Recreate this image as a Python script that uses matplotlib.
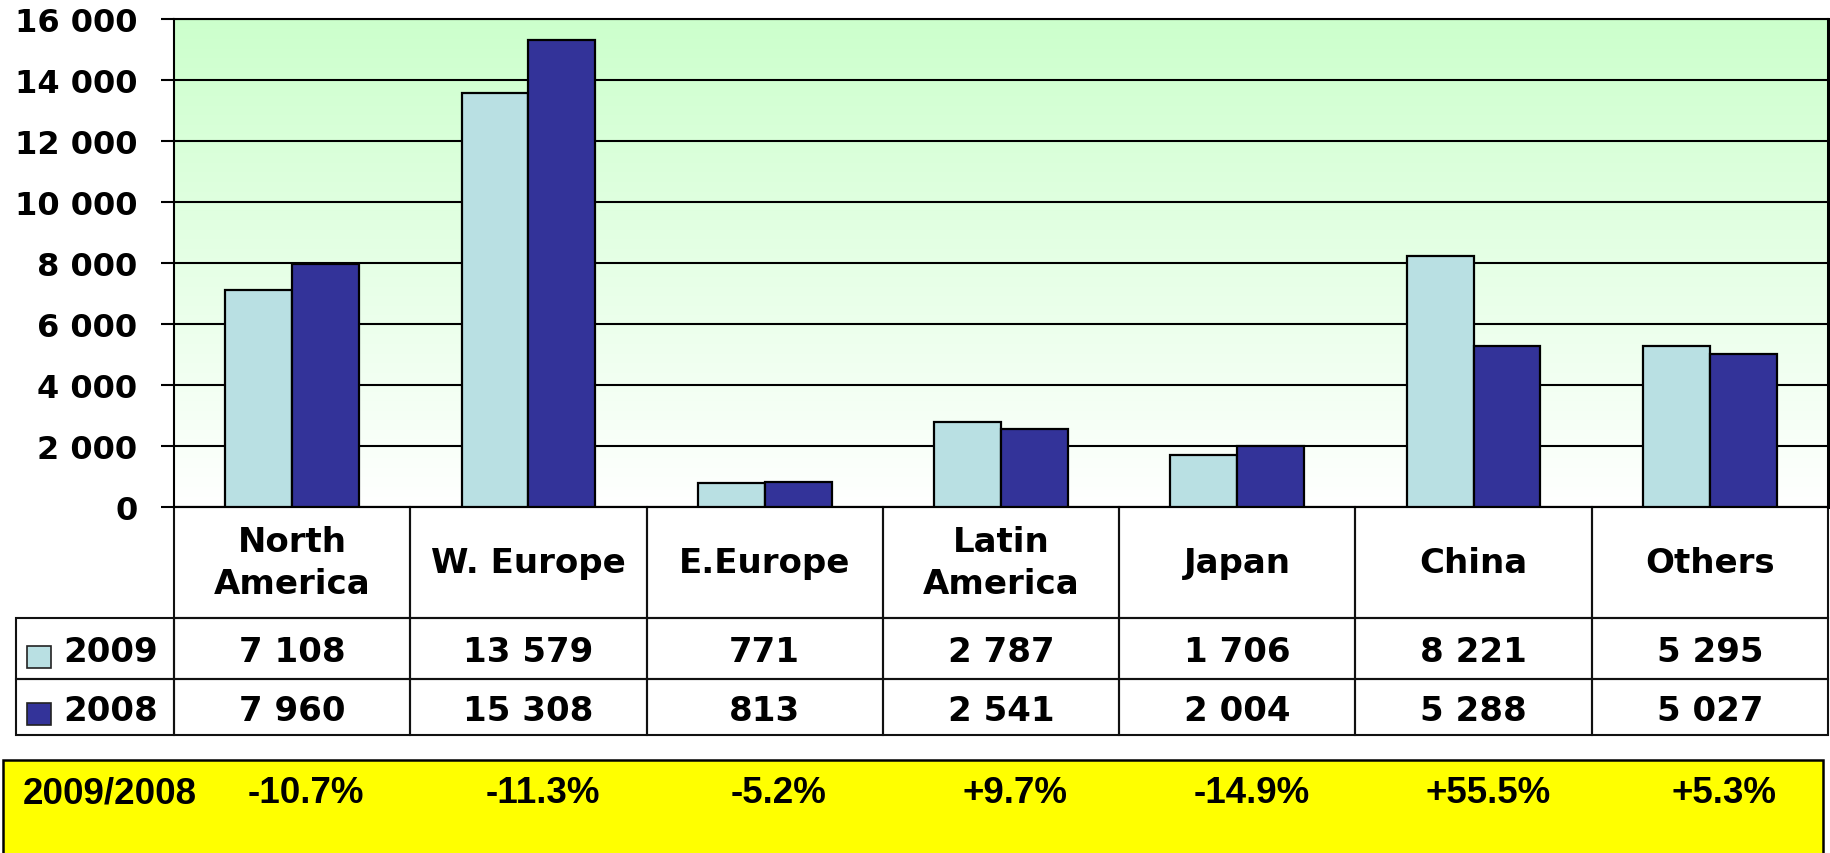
import matplotlib
matplotlib.use("Agg")
import matplotlib.pyplot as plt
import numpy as np
from matplotlib.patches import Rectangle
from matplotlib.table import Table
from matplotlib.colors import LinearSegmentedColormap

plt.rcParams['font.family'] = ['DejaVu Sans']
plt.rcParams['font.weight'] = 'bold'

regions = ["North\nAmerica", "W. Europe", "E.Europe", "Latin\nAmerica", "Japan", "China", "Others"]
sales_2009 = [7108, 13579, 771, 2787, 1706, 8221, 5295]
sales_2008 = [7960, 15308, 813, 2541, 2004, 5288, 5027]
change = ["-10.7%", "-11.3%", "-5.2%", "+9.7%", "-14.9%", "+55.5%", "+5.3%"]
years = ["2009", "2008"]
colors = ["#B9E0E3", "#333399"]

W, H = 1831, 854
fig = plt.figure(figsize=(W / 100, H / 100), dpi=100)

# plot area in pixels (from top-left)
px_l, px_r, px_t, px_b = 174, 1828, 20, 508
ax = fig.add_axes([px_l / W, 1 - px_b / H, (px_r - px_l) / W, (px_b - px_t) / H])

# green -> white gradient background
cmap = LinearSegmentedColormap.from_list("bg", ["#FFFFFF", "#CCFFCC"])
grad = np.linspace(0, 1, 256).reshape(-1, 1)
ax.imshow(grad, cmap=cmap, aspect="auto", origin="lower",
          extent=[-0.5, 6.5, 0, 16000], zorder=0)

x = np.arange(len(regions))
bw = 0.283
ax.bar(x - bw / 2, sales_2009, bw, color=colors[0], edgecolor="black", linewidth=1.6, zorder=3)
ax.bar(x + bw / 2, sales_2008, bw, color=colors[1], edgecolor="black", linewidth=1.6, zorder=3)

ax.set_xlim(-0.5, 6.5)
ax.set_ylim(0, 16000)
ax.set_yticks(np.arange(0, 16001, 2000))
ax.set_yticklabels([f"{v:,}".replace(",", " ") for v in range(0, 16001, 2000)],
                   fontsize=23, fontweight="bold")
ax.tick_params(axis="y", length=9.4, width=1.5, direction="out", pad=17)
ax.set_xticks([])
ax.yaxis.grid(True, color="black", linewidth=1.5, zorder=1)
ax.set_axisbelow(True)
for s in ["left", "top", "bottom"]:
    ax.spines[s].set_linewidth(1.5)
ax.spines["right"].set_linewidth(2.2)

# data table under the plot
ax_w, ax_h = px_r - px_l, px_b - px_t
hdr_h, r1_h, r2_h = 111, 61, 56
tab_left = 16
tbl = Table(ax, bbox=[(tab_left - px_l) / ax_w, -(hdr_h + r1_h + r2_h) / ax_h,
                      (px_r - tab_left) / ax_w, (hdr_h + r1_h + r2_h) / ax_h])
cw = ax_w / 7
lab_w = px_l - tab_left
for j, name in enumerate(regions):
    tbl.add_cell(0, j + 1, width=cw, height=hdr_h, text=name, loc="center")
rows = [sales_2009, sales_2008]
row_h = [r1_h, r2_h]
for i, vals in enumerate(rows):
    tbl.add_cell(i + 1, 0, width=lab_w, height=row_h[i], text=years[i], loc="right")
    for j, v in enumerate(vals):
        tbl.add_cell(i + 1, j + 1, width=cw, height=row_h[i],
                     text=f"{v:,}".replace(",", " "), loc="center")
tbl.auto_set_font_size(False)
for (r, c), cell in tbl.get_celld().items():
    cell.set_linewidth(1.5)
    cell.set_edgecolor("#111111")
    cell.set_facecolor("none")
    t = cell.get_text()
    t.set_fontsize(24.5)
    t.set_fontweight("bold")
    t.set_linespacing(1.35)
    if r > 0:
        t.set_verticalalignment("center_baseline")
ax.add_table(tbl)
tbl.set_clip_on(False)

# legend swatches in the row label cells
sw_top = [647, 704]
for i in range(2):
    fig.add_artist(Rectangle((27 / W, 1 - (sw_top[i] + 22) / H), 24 / W, 22 / H,
                             transform=fig.transFigure, facecolor=colors[i],
                             edgecolor="#222222", linewidth=1.2))

# yellow change box
fig.add_artist(Rectangle((3 / W, -0.02), (1823 - 3) / W, (854 - 761) / H + 0.02,
                         transform=fig.transFigure, facecolor="#FFFF00",
                         edgecolor="black", linewidth=1.8, zorder=-1))
ty = 1 - 794 / H
fig.text(23 / W, ty, "2009/2008", fontsize=26.5, fontweight="bold", va="center", ha="left",
         family="Liberation Sans")
trans = matplotlib.transforms.blended_transform_factory(ax.transData, fig.transFigure)
for j, c in enumerate(change):
    ax.text(x[j] + 0.06, ty, c, transform=trans, fontsize=26.5, fontweight="bold",
            va="center", ha="center", clip_on=False, family="Liberation Sans")

fig.savefig("out.png", dpi=100)
